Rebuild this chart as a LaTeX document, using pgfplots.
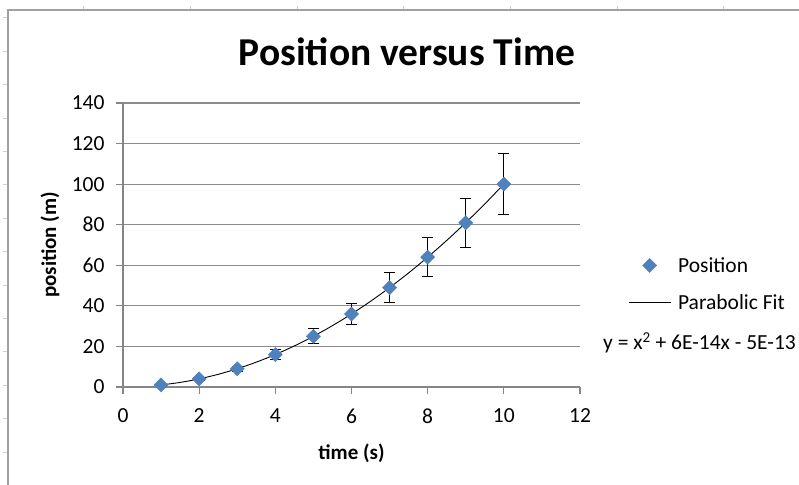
\documentclass[border=0pt]{standalone}
\usepackage{fontspec}
\setmainfont{Carlito}
\usepackage{pgfplots}
\usepackage{pgfplotstable}
\pgfplotsset{compat=1.18}
\definecolor{axgray}{RGB}{134,134,134}
\definecolor{gridgray}{RGB}{140,140,140}
\definecolor{framegray}{RGB}{160,160,160}
\definecolor{tickblue}{RGB}{200,208,225}
\definecolor{excelblue}{RGB}{79,129,189}
\pgfplotsset{
  fitlegend/.style={legend image code/.code={\draw[##1] (0bp,0bp) -- (42bp,0bp);}},
  poslegend/.style={legend image code/.code={\draw[mark repeat=2,mark phase=2,##1] plot coordinates {(0bp,0bp) (21bp,0bp) (42bp,0bp)};}},
}
\pgfplotstableread{
x y yerr
1 1 0.15
2 4 0.6
3 9 1.35
4 16 2.4
5 25 3.75
6 36 5.4
7 49 7.35
8 64 9.6
9 81 12.15
10 100 15
}\positiondata
\pgfplotstableread{
x y
1 1
1.5 2.25
2 4
2.5 6.25
3 9
3.5 12.25
4 16
4.5 20.25
5 25
5.5 30.25
6 36
6.5 42.25
7 49
7.5 56.25
8 64
8.5 72.25
9 81
9.5 90.25
10 100
}\fitdata
\begin{document}
\begin{tikzpicture}
\useasboundingbox (0,0) rectangle (799bp,485bp);
\foreach \yy in {18,51.4,...,460} \draw[tickblue, line width=1bp] (3bp,485bp-\yy bp) -- (7bp,485bp-\yy bp);
\foreach \xx in {83,190,297,403,510,617,723} \draw[tickblue, line width=1bp] (\xx bp,475bp) -- (\xx bp,479bp);
\draw[framegray, line width=1.5bp] (8bp,0) -- (8bp,475bp) -- (799bp,475bp);
\node[font=\fontsize{39.5bp}{46bp}\selectfont\bfseries] at (407bp,433bp) {Position versus Time};
\begin{axis}[
  at={(123bp,98bp)}, anchor=south west,
  scale only axis, width=457bp, height=284bp,
  xmin=0, xmax=12, ymin=0, ymax=140,
  xtick={0,2,...,12}, ytick={0,20,...,140},
  axis x line=bottom, axis y line=left,
  axis line style={draw=axgray, line width=1.2bp, -},
  ymajorgrids, grid style={draw=gridgray, line width=1.2bp},
  tick style={draw=axgray, line width=1.2bp},
  major tick length=7bp, tick align=outside,
  /pgf/number format/assume math mode=true,
  ticklabel style={font=\fontsize{21.5bp}{25bp}\selectfont},
  xticklabel style={yshift=-11bp},
  yticklabel style={xshift=-8bp},
  xlabel={\bfseries time (s)}, ylabel={\bfseries position (m)},
  label style={font=\fontsize{21bp}{25bp}\selectfont},
  xlabel style={at={(axis description cs:0.5,-0.232)}, anchor=center},
  ylabel style={at={(axis description cs:-0.16,0.5)}, anchor=center},
  legend style={at={(axis description cs:1.105,0.362)}, anchor=west, draw=none, fill=none,
    font=\fontsize{21.5bp}{25bp}\selectfont, row sep=17bp, inner sep=0pt,
    /tikz/every odd column/.append style={column sep=5bp}},
  legend cell align=left,
  clip=false,
]
\addplot[only marks, mark=square*, mark size=5bp, color=excelblue, poslegend,
  mark options={rotate=45, draw=excelblue, fill=excelblue},
  error bars/.cd, y dir=both, y explicit,
  error bar style={black, line width=1bp},
  error mark options={rotate=90, mark size=5.5bp, black, line width=1bp},
  ] table[x=x, y=y, y error=yerr] {\positiondata};
\addlegendentry{Position}
\addplot[black, line width=0.9bp, smooth, no marks, fitlegend] table[x=x,y=y] {\fitdata};
\addlegendentry{Parabolic Fit}
\end{axis}
\node[anchor=west, font=\fontsize{21.5bp}{25bp}\selectfont, inner sep=0pt] at (603bp,142bp) {y = x\textsuperscript{2} + 6E-14x - 5E-13};
\end{tikzpicture}
\end{document}
